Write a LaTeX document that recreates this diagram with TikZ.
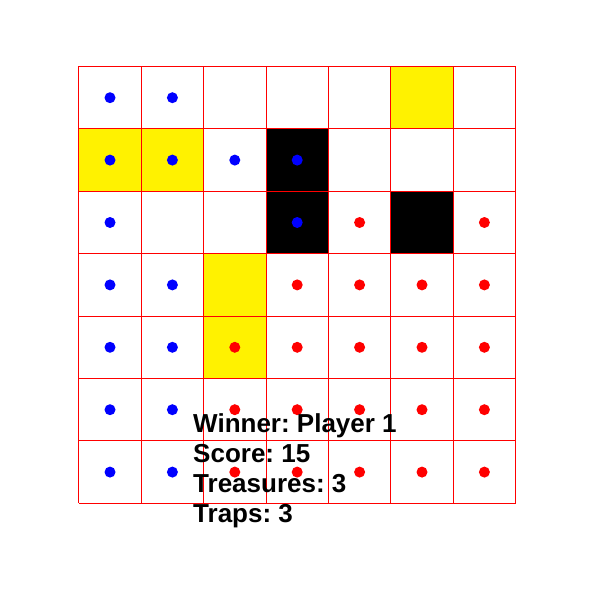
\documentclass[tikz,border=0pt]{standalone}
\usepackage{fontspec}
\setmainfont{Liberation Sans}
\begin{document}
\frenchspacing
\begin{tikzpicture}[x=1pt,y=-1pt,
  cellline/.style={draw=red,line width=1pt},
  bluedot/.style={fill=blue},
  reddot/.style={fill=red},
  infotext/.style={anchor=base west,inner sep=0pt,font=\fontsize{26}{30}\selectfont\bfseries}]
\useasboundingbox (0,0) rectangle (600,591);
\def\xo{78.8}\def\yo{66.5}\def\s{62.4}
% yellow cells (col,row)
\foreach \c/\r in {5/0,0/1,1/1,2/3,2/4}
  \fill[yellow] (\xo+\c*\s,\yo+\r*\s) rectangle ++(\s,\s);
% black cells
\foreach \c/\r in {3/1,3/2,5/2}
  \fill[black] (\xo+\c*\s,\yo+\r*\s) rectangle ++(\s,\s);
% grid
\foreach \i in {0,...,7} {
  \draw[cellline] (\xo+\i*\s,\yo) -- (\xo+\i*\s,\yo+7*\s);
  \draw[cellline] (\xo,\yo+\i*\s) -- (\xo+7*\s,\yo+\i*\s);
}
% blue dots
\foreach \c/\r in {0/0,1/0,0/1,1/1,2/1,3/1,0/2,3/2,0/3,1/3,0/4,1/4,0/5,1/5,0/6,1/6}
  \fill[bluedot] (\xo+\c*\s+0.5*\s,\yo+\r*\s+0.5*\s) circle (5.5);
% red dots
\foreach \c/\r in {4/2,6/2,3/3,4/3,5/3,6/3,2/4,3/4,4/4,5/4,6/4,2/5,3/5,4/5,5/5,6/5,2/6,3/6,4/6,5/6,6/6}
  \fill[reddot] (\xo+\c*\s+0.5*\s,\yo+\r*\s+0.5*\s) circle (5.5);
% text
\node[infotext] (winner) at (193,432) {Winner: Player 1};
\node[infotext] (score) at (193,462) {Score: 15};
\node[infotext] (treasures) at (193,492) {Treasures: 3};
\node[infotext] (traps) at (193,522) {Traps: 3};
\end{tikzpicture}
\end{document}
